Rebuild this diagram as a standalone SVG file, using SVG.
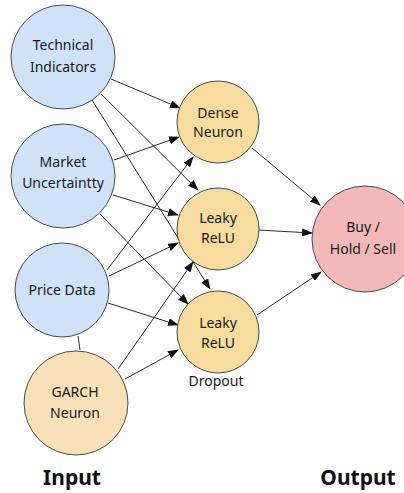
<svg xmlns="http://www.w3.org/2000/svg" width="404" height="493" viewBox="0 0 404 493">
  <style>
    .node circle { stroke: #4a4a4a; stroke-width: 1; }
    .input circle { fill: #cfe2f8; }
    .hidden circle { fill: #f6dd9f; }
    .garch circle { fill: #f9e1b7; }
    .output circle { fill: #f3b9b9; }
    text { font-family: "Noto Sans", "Open Sans", "DejaVu Sans", sans-serif; font-size: 14px; fill: #1a1a1a; text-anchor: middle; }
    .title { font-size: 21px; font-weight: bold; fill: #111; }
    .edges line { stroke: #2a2a2a; stroke-width: 1; }
    .edges .arrow { marker-end: url(#arrowhead); }
  </style>
  <defs>
    <marker id="arrowhead" markerWidth="11" markerHeight="8" refX="10" refY="4" orient="auto" markerUnits="userSpaceOnUse">
      <path d="M0,0 L11,4 L0,8 Z" fill="#111"/>
    </marker>
  </defs>
  <rect width="404" height="493" fill="#ffffff"/>

  <!-- connectors -->
  <g class="edges">
    <line x1="78" y1="336" x2="80" y2="350"/>
    <line class="arrow" x1="111" y1="79" x2="180" y2="108"/>
    <line class="arrow" x1="101" y1="94" x2="198" y2="190"/>
    <line class="arrow" x1="92" y1="100" x2="210" y2="289"/>
    <line class="arrow" x1="114" y1="160" x2="179" y2="137"/>
    <line class="arrow" x1="113" y1="195" x2="178" y2="215"/>
    <line class="arrow" x1="100" y1="214" x2="188" y2="304"/>
    <line class="arrow" x1="107" y1="270" x2="193" y2="157"/>
    <line class="arrow" x1="109" y1="276" x2="178" y2="243"/>
    <line class="arrow" x1="108" y1="303" x2="178" y2="325"/>
    <line class="arrow" x1="118" y1="369" x2="193" y2="262"/>
    <line class="arrow" x1="125" y1="379" x2="178" y2="350"/>
    <line class="arrow" x1="252" y1="148" x2="320" y2="205"/>
    <line class="arrow" x1="258" y1="230" x2="312" y2="233"/>
    <line class="arrow" x1="257" y1="315" x2="321" y2="272"/>
  </g>

  <!-- input layer -->
  <g id="technical-indicators" class="node input">
    <circle cx="63" cy="57" r="52"/>
    <text x="63" y="50">Technical</text>
    <text x="63" y="72">Indicators</text>
  </g>
  <g id="market-uncertainty" class="node input">
    <circle cx="63" cy="176" r="52"/>
    <text x="63" y="167">Market</text>
    <text x="63" y="188">Uncertaintty</text>
  </g>
  <g id="price-data" class="node input">
    <circle cx="62" cy="290" r="47"/>
    <text x="62" y="295">Price Data</text>
  </g>
  <g id="garch-neuron" class="node garch">
    <circle cx="76" cy="403" r="52"/>
    <text x="75" y="397">GARCH</text>
    <text x="75" y="418">Neuron</text>
  </g>

  <!-- hidden layer -->
  <g id="dense-neuron" class="node hidden">
    <circle cx="218" cy="122" r="41"/>
    <text x="218" y="118">Dense</text>
    <text x="218" y="137">Neuron</text>
  </g>
  <g id="leaky-relu-1" class="node hidden">
    <circle cx="218" cy="229" r="41"/>
    <text x="218" y="223">Leaky</text>
    <text x="218" y="243">ReLU</text>
  </g>
  <g id="leaky-relu-2" class="node hidden">
    <circle cx="218" cy="332" r="41"/>
    <text x="218" y="328">Leaky</text>
    <text x="218" y="348">ReLU</text>
    <text x="216" y="386">Dropout</text>
  </g>

  <!-- output layer -->
  <g id="decision" class="node output">
    <circle cx="365" cy="239" r="53"/>
    <text x="363" y="232">Buy /</text>
    <text x="363" y="254">Hold / Sell</text>
  </g>

  <!-- layer titles -->
  <g id="layer-labels">
    <text class="title" x="72" y="485">Input</text>
    <text class="title" x="358" y="485">Output</text>
  </g>
</svg>
